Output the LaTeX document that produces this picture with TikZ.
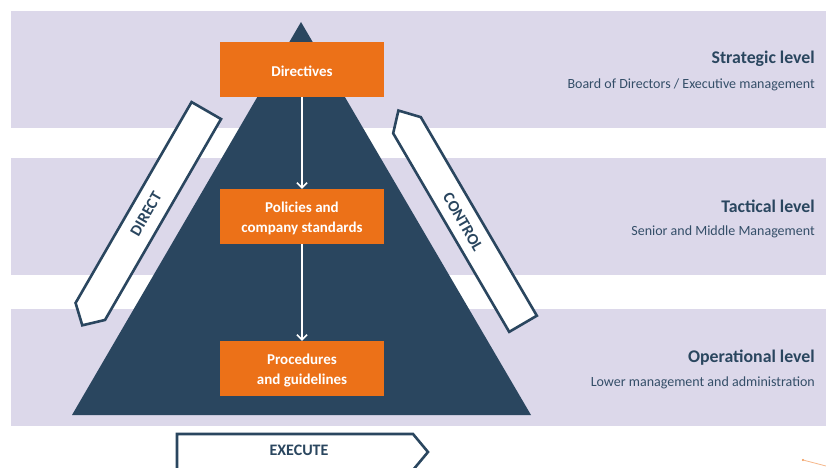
\documentclass[tikz,border=0pt]{standalone}
\usepackage{fontspec}
\setmainfont{Carlito}
\usetikzlibrary{arrows.meta}
\definecolor{band}{HTML}{DCD8EA}
\definecolor{navy}{HTML}{2A465F}
\definecolor{orng}{HTML}{EC7118}
\definecolor{subtx}{HTML}{344E68}
\tikzset{
  bandbox/.style={fill=band, draw=none},
  orbox/.style={fill=orng, draw=none, minimum width=164pt, minimum height=55pt, inner sep=0pt,
     text=white, font=\fontsize{15}{19.5}\selectfont\bfseries, align=center},
  boxlabel/.style={text=white, font=\fontsize{15}{19.5}\selectfont\bfseries, align=center, inner sep=0pt},
  flowarrow/.style={draw=white, line width=1.6pt, -{Straight Barb[length=5pt,width=10pt,line width=1.6pt]}},
  strip/.style={fill=white, draw=navy, line width=2.6pt, line join=miter},
  striptext/.style={text=navy, font=\fontsize{16}{18}\selectfont\bfseries, inner sep=0pt},
  lvltitle/.style={text=navy, font=\fontsize{17.8}{20}\selectfont\bfseries, anchor=east, inner sep=0pt},
  lvlsub/.style={text=subtx, font=\fontsize{14}{16}\selectfont, anchor=east, inner sep=0pt}
}
\begin{document}
\begin{tikzpicture}[x=1pt,y=1pt]
\useasboundingbox (0,0) rectangle (826,467);
\clip (0,0) rectangle (826,467);
\fill[white] (0,0) rectangle (826,467);
% bands
\path[bandbox] (11,339) rectangle (826,456);
\path[bandbox] (11,192) rectangle (826,309);
\path[bandbox] (11,41) rectangle (826,158);
% pyramid
\fill[navy] (301,445) -- (531,52) -- (72,52) -- cycle;
% orange boxes
\node[orbox] (dir) at (302,397.5) {};
\node[orbox] (pol) at (302,250.5) {};
\node[orbox] (pro) at (302,98.5) {};
\node[boxlabel] (dirt) at ([yshift=-1.5pt]dir.center) {Directives};
\node[boxlabel] (polt) at ([yshift=-2pt]pol.center) {Policies and\\company standards};
\node[boxlabel] (prot) at ([yshift=-2pt]pro.center) {Procedures\\and guidelines};
\draw[flowarrow] (dir.south) -- (pol.north);
\draw[flowarrow] (pol.south) -- (pro.north);
% DIRECT strip
\begin{scope}[shift={(148.3,256)}, rotate=240]
  \draw[strip] (-116,-17) -- (116,-17) -- (132,0) -- (116,17) -- (-116,17) -- cycle;
\end{scope}
\node[striptext, rotate=60] (direct) at (146,253) {DIRECT};
% CONTROL strip
\begin{scope}[shift={(465,242.5)}, rotate=120.3]
  \draw[strip] (-115,-16) -- (115,-16) -- (132,0) -- (115,16) -- (-115,16) -- cycle;
\end{scope}
\node[striptext, rotate=-60] (control) at (463,245) {CONTROL};
% EXECUTE strip
\draw[strip] (177,33) -- (413,33) -- (428,15) -- (413,-3) -- (177,-3) -- cycle;
\node[striptext] (exec) at (299,17) {EXECUTE};
% level labels
\node[lvltitle] (strat) at (815,408.5) {Strategic level};
\node[lvlsub] (stratsub) at (815,382.5) {Board of Directors / Executive management};
\node[lvltitle] (tact) at (815,260.5) {Tactical level};
\node[lvlsub] (tactsub) at (815,235.5) {Senior and Middle Management};
\node[lvltitle] (oper) at (815,109.5) {Operational level};
\node[lvlsub] (opersub) at (815,84.5) {Lower management and administration};
% stray orange mark
\coordinate (m1) at (803,7);
\coordinate (m2) at (826,1);
\fill[orng!80] (m1) circle (1.2pt);
\draw[orng!50, line width=0.8pt] (m1) -- (m2);
\end{tikzpicture}
\end{document}
